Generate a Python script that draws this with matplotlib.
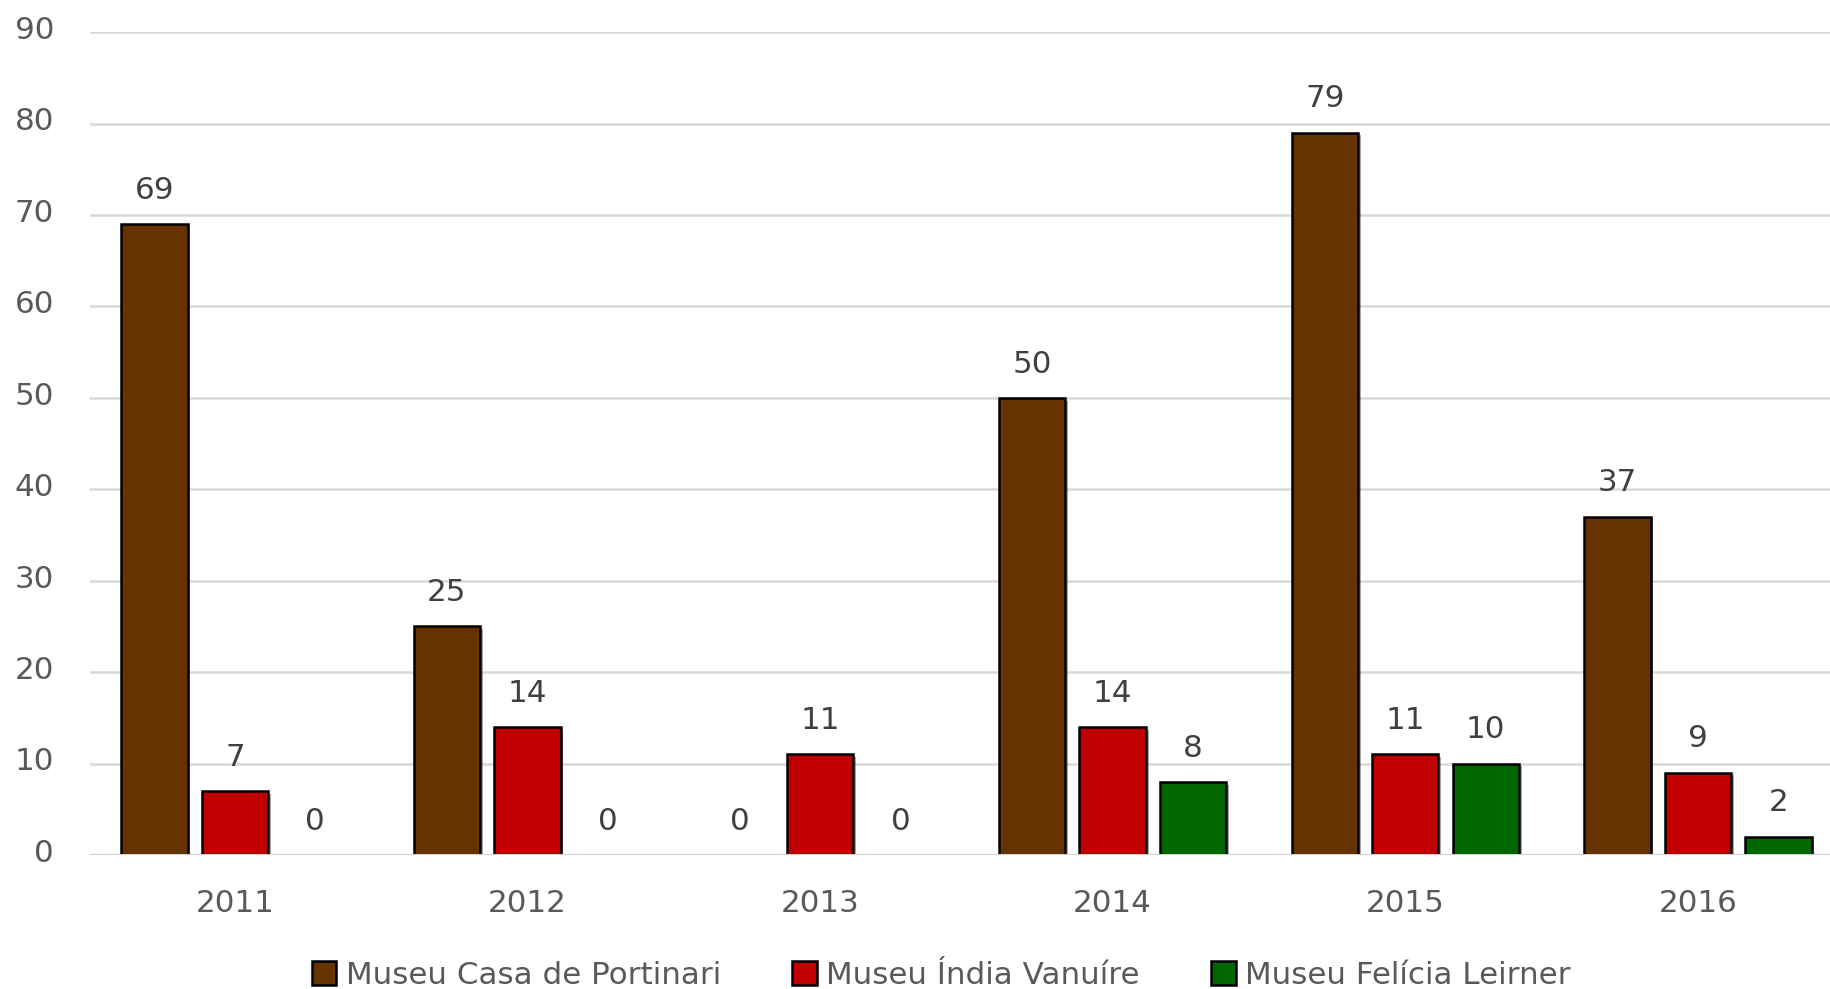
import matplotlib
matplotlib.use("Agg")
import matplotlib.pyplot as plt
import matplotlib.patheffects as pe
import matplotlib.transforms as mtransforms
import numpy as np

years = ["2011", "2012", "2013", "2014", "2015", "2016"]
series_names = ["Museu Casa de Portinari", "Museu Índia Vanuíre", "Museu Felícia Leirner"]
portinari = [69, 25, 0, 50, 79, 37]
vanuire = [7, 14, 11, 14, 11, 9]
leirner = [0, 0, 0, 8, 10, 2]
colors = ["#663300", "#C00000", "#006600"]
yticks = [0, 10, 20, 30, 40, 50, 60, 70, 80, 90]

plt.rcParams['font.family'] = ['DejaVu Sans']
W, H = 1831, 990
fig = plt.figure(figsize=(W / 100, 9.899), dpi=100)
ax = fig.add_axes([90 / W, 1 - 856 / H, (1831 - 90) / W, (856 - 33) / H])

txt_color = "#595959"
fs = 22.3
x = np.arange(len(years))
step = 0.275
width = 0.227
shadow = [pe.SimplePatchShadow(offset=(2, -2), alpha=0.35, shadow_rgbFace="#000000"), pe.Normal()]
for i, (vals, name, c) in enumerate(zip([portinari, vanuire, leirner], series_names, colors)):
    pos = x + (i - 1) * step
    bars = ax.bar(pos, vals, width, color=c, edgecolor="black", linewidth=1.8, label=name, zorder=3)
    for b, v in zip(bars, vals):
        if v == 0:
            b.set_linewidth(0)
        else:
            b.set_path_effects(shadow)
        ax.annotate(str(v), (b.get_x() + b.get_width() / 2, v), xytext=(0, 25),
                    textcoords="offset points", ha="center", va="center",
                    fontsize=fs, color="#404040", zorder=5)

ax.set_xlim(-0.495, 5.455)
ax.set_ylim(0, 90)
ax.set_yticks(yticks)
ax.set_yticklabels([str(t) for t in yticks])
ax.set_xticks(x)
ax.set_xticklabels(years)
ax.tick_params(axis="y", length=0, pad=26, labelsize=fs, labelcolor=txt_color)
ax.tick_params(axis="x", length=0, pad=24, labelsize=fs, labelcolor=txt_color)
off = mtransforms.ScaledTranslation(0, 4 / 72, fig.dpi_scale_trans)
for lab in ax.get_yticklabels():
    lab.set_transform(lab.get_transform() + off)
ax.grid(axis="y", color="#d9d9d9", linewidth=1.8, zorder=0)
ax.axhline(0, color="#d0d0d0", linewidth=2.2, zorder=4)
for s in ax.spines.values():
    s.set_visible(False)
ax.set_axisbelow(True)

from matplotlib.patches import Patch
handles = [Patch(facecolor=c, edgecolor="black", linewidth=1.8) for c in colors]
leg = fig.legend(handles, series_names, loc="center", bbox_to_anchor=(941 / W, 1 - 976 / H),
                 ncol=3, frameon=False, fontsize=fs, handlelength=0.8, handleheight=0.8,
                 handletextpad=0.3, columnspacing=2.3, borderaxespad=0, borderpad=0)
for t in leg.get_texts():
    t.set_color(txt_color)

fig.savefig("out.png", dpi=100, facecolor="white")
